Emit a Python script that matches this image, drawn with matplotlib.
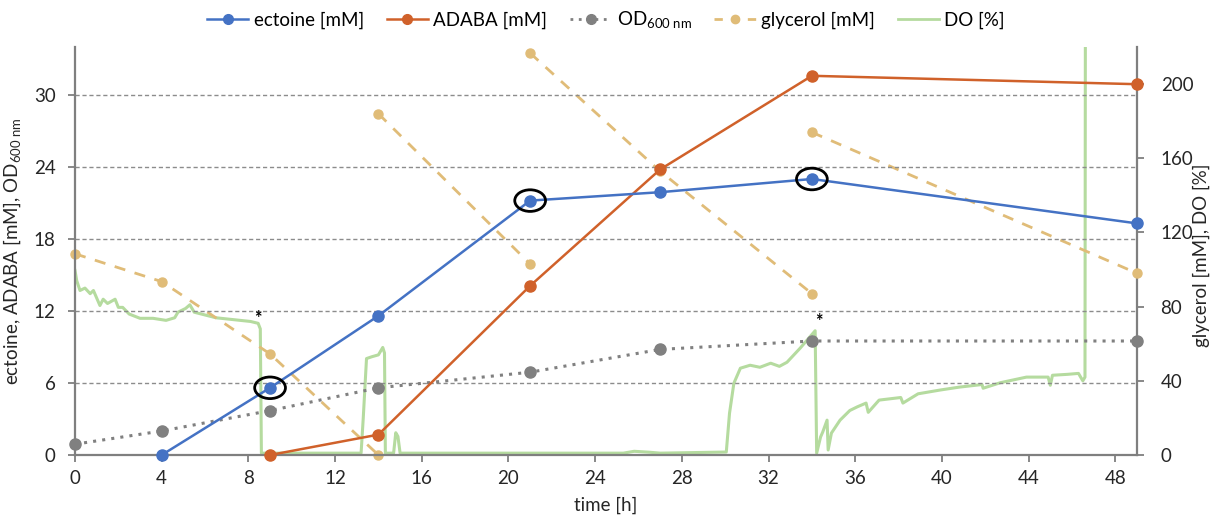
import matplotlib
matplotlib.use("Agg")
import matplotlib.pyplot as plt
from matplotlib.patches import Ellipse
from matplotlib.lines import Line2D

plt.rcParams['font.family'] = ['Lato', 'DejaVu Sans']
plt.rcParams['mathtext.fontset'] = 'custom'
plt.rcParams['mathtext.rm'] = 'Lato'
plt.rcParams['mathtext.it'] = 'Lato:italic'

# ---------------- data ----------------
ectoine_t = [4, 9, 14, 21, 27, 34, 49]
ectoine_v = [0.0, 5.6, 11.6, 21.2, 21.9, 23.0, 19.3]

adaba_t = [9, 14, 21, 27, 34, 49]
adaba_v = [0.0, 1.7, 14.1, 23.8, 31.6, 30.9]

od_t = [0, 4, 9, 14, 21, 27, 34, 49]
od_v = [0.9, 2.0, 3.7, 5.6, 6.9, 8.8, 9.5, 9.5]

# glycerol feeding segments (right axis)
gly_seg1_t = [0, 4, 9, 14]
gly_seg1_v = [108.5, 93.5, 54.5, 0.0]
gly_seg2_t = [14, 21]
gly_seg2_v = [184.0, 103.0]
gly_seg3_t = [21, 27, 34]
gly_seg3_v = [216.7, 153.0, 87.0]
gly_seg4_t = [34, 49]
gly_seg4_v = [174.0, 98.0]

do_points = [
    (0, 99.5), (0.08, 94), (0.23, 88.7), (0.46, 90), (0.7, 87), (0.85, 88.7),
    (1.15, 80.6), (1.3, 84), (1.5, 81.7), (1.85, 84), (2.0, 79.6), (2.2, 79.6),
    (2.5, 76), (3.0, 73.7), (3.6, 73.7), (4.2, 72.6), (4.6, 74), (4.75, 77),
    (5.1, 79), (5.3, 81), (5.5, 77), (5.9, 75.8), (6.5, 74), (7.3, 73),
    (8.1, 72), (8.45, 71), (8.55, 68), (8.6, 1), (8.7, 1), (13.2, 1),
    (13.3, 20), (13.45, 52), (13.7, 53), (14.0, 54), (14.2, 58), (14.28, 55),
    (14.32, 1), (14.7, 1), (14.8, 12), (14.9, 10), (15.0, 1), (25.3, 1),
    (25.8, 2), (26.5, 1.5), (27.0, 1), (30.05, 1.6), (30.2, 22.6), (30.4, 38.7),
    (30.7, 46.8), (31.15, 48.4), (31.6, 47.3), (32.1, 49.5), (32.5, 47.8),
    (32.85, 50), (33.45, 57.5), (34.15, 67), (34.22, 1), (34.4, 9.7),
    (34.5, 12.4), (34.7, 18.8), (34.75, 2.7), (34.9, 11.8), (35.3, 18.8),
    (35.75, 24), (36.1, 26), (36.5, 28), (36.6, 23), (37.1, 29.6), (38.1, 31),
    (38.2, 28), (38.9, 33), (39.9, 35), (40.8, 36.6), (41.85, 38), (41.9, 36),
    (42.7, 39), (43.9, 42), (44.9, 42), (45.0, 37.6), (45.1, 43), (45.8, 43.5),
    (46.3, 44), (46.5, 40), (46.6, 42), (46.62, 250), (49, 250),
]
do_t = [p[0] for p in do_points]
do_v = [p[1] for p in do_points]

# marked samples (ellipses) and asterisks
circled_t = [9, 21, 34]
asterisk_pos = [(8.45, 11.4), (34.3, 11.1)]

x_ticks = list(range(0, 49, 4))
left_ticks = [0, 6, 12, 18, 24, 30]
right_ticks = [0, 40, 80, 120, 160, 200]

# ---------------- styles ----------------
c_ect = '#4472C4'
c_ada = '#D0612A'
c_od = '#808080'
c_gly = '#E0BC78'
c_do = '#B5DB9F'
c_ax = '#7F7F7F'
fs = 13.5

fig = plt.figure(figsize=(12.12, 5.17), dpi=100)
ax = fig.add_axes([75/1212, 62/517, (1137-75)/1212, (455-47)/517])
ax2 = ax.twinx()
ax.set_zorder(2)
ax.patch.set_visible(False)
ax2.set_zorder(1)

# right axis series
ax2.plot(do_t, do_v, color=c_do, lw=2.2, zorder=2, clip_on=True)
for tt, vv in [(gly_seg1_t, gly_seg1_v), (gly_seg2_t, gly_seg2_v),
               (gly_seg3_t, gly_seg3_v), (gly_seg4_t, gly_seg4_v)]:
    ax2.plot(tt, vv, color=c_gly, lw=2, ls=(0, (4, 3.5)), marker='o', ms=6.5,
             zorder=3, clip_on=False)

# left axis series
ax.plot(od_t, od_v, color=c_od, lw=2.2, ls=(0, (1, 2)), marker='o', ms=8,
        zorder=3, clip_on=False)
ax.plot(adaba_t, adaba_v, color=c_ada, lw=1.8, marker='o', ms=8, zorder=4,
        clip_on=False)
ax.plot(ectoine_t, ectoine_v, color=c_ect, lw=1.8, marker='o', ms=8, zorder=5,
        clip_on=False)

for t in circled_t:
    v = ectoine_v[ectoine_t.index(t)]
    ax.add_patch(Ellipse((t, v), 1.42, 1.8, fill=False, ec='black', lw=2,
                         zorder=6))
for (t, v) in asterisk_pos:
    ax.text(t, v, '*', ha='center', va='center', fontsize=13,
            fontweight='bold', color='black', zorder=6)

# axes
ax.set_xlim(0, 49)
ax.set_ylim(0, 34)
ax2.set_ylim(0, 220)
ax.set_xticks(x_ticks)
ax.set_yticks(left_ticks)
ax2.set_yticks(right_ticks)
for a in (ax, ax2):
    for s in a.spines.values():
        s.set_visible(False)
ax.spines['left'].set_visible(True)
ax.spines['bottom'].set_visible(True)
ax2.spines['right'].set_visible(True)
for s in (ax.spines['left'], ax.spines['bottom'], ax2.spines['right']):
    s.set_color(c_ax)
    s.set_linewidth(1.6)

ax.tick_params(axis='both', direction='out', length=5, width=1.3,
               color=c_ax, labelsize=fs, labelcolor='#262626')
ax.tick_params(axis='x', pad=6)
ax.tick_params(axis='y', pad=9)
ax2.tick_params(axis='y', direction='out', length=5, width=1.3, color=c_ax,
                labelsize=fs, labelcolor='#262626', pad=12)

for y in left_ticks[1:]:
    ax.axhline(y, color='#8C8C8C', lw=1, ls=(0, (3, 2)), zorder=1)

ax.set_xlabel('time [h]', fontsize=fs, color='#262626', labelpad=7)
ax.set_ylabel(r'ectoine, ADABA [mM], OD$_{\mathrm{600\ nm}}$', fontsize=fs,
              color='#262626', labelpad=8)
fig.text(1201/1212, (517-255)/517, 'glycerol [mM], DO [%]', rotation=90,
         ha='center', va='center', fontsize=fs, color='#262626')

handles = [
    Line2D([], [], color=c_ect, lw=1.8, marker='o', ms=7),
    Line2D([], [], color=c_ada, lw=1.8, marker='o', ms=7),
    Line2D([], [], color=c_od, lw=2, ls=(0, (1, 2)), marker='o', ms=7),
    Line2D([], [], color=c_gly, lw=2, ls=(0, (3, 3)), marker='o', ms=6),
    Line2D([], [], color=c_do, lw=2),
]
labels = ['ectoine [mM]', 'ADABA [mM]', r'OD$_{\mathrm{600\ nm}}$',
          'glycerol [mM]', 'DO [%]']
fig.legend(handles, labels, loc='center', bbox_to_anchor=(0.5, 1 - 20/517),
           ncol=5, frameon=False, fontsize=fs, handlelength=2.2,
           handletextpad=0.3, columnspacing=1.2)

fig.savefig('out.png', dpi=100)
